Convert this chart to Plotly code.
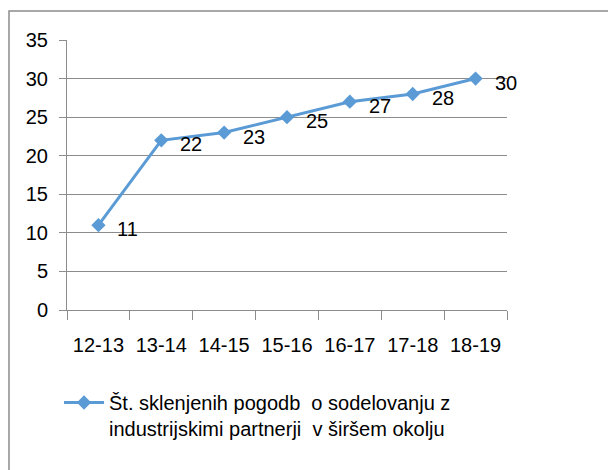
import plotly.graph_objects as go

categories = ["12-13", "13-14", "14-15", "15-16", "16-17", "17-18", "18-19"]
values = [11, 22, 23, 25, 27, 28, 30]
series_name = "Št. sklenjenih pogodb  o sodelovanju z<br>industrijskimi partnerji  v širšem okolju"

FONT = "Liberation Sans, Arial, sans-serif"
BLUE = "#5B9BD5"
GRID = "#8C8C8C"

fig = go.Figure()
fig.add_trace(go.Scatter(
    x=categories, y=values, name=series_name,
    mode="lines+markers",
    line=dict(color=BLUE, width=3),
    marker=dict(symbol="diamond", size=11, color=BLUE),
    cliponaxis=False,
))

for c, v in zip(categories, values):
    fig.add_annotation(
        x=c, y=v, text=str(v), showarrow=False,
        xanchor="left", yanchor="middle", xshift=17, yshift=-4,
        font=dict(family=FONT, size=20, color="#000000"),
    )

L, R, T, B = 67, 507, 40, 310
W, H = R - L, B - T

fig.update_layout(
    width=608, height=470,
    margin=dict(l=L, r=608 - R, t=T, b=470 - B, autoexpand=False),
    paper_bgcolor="white", plot_bgcolor="white",
    font=dict(family=FONT, size=20, color="#000000"),
    showlegend=True,
    legend=dict(
        x=(59 - L) / W, y=(B - 383) / H, xanchor="left", yanchor="top",
        valign="top", font=dict(family=FONT, size=20, color="#000000"),
        bgcolor="rgba(0,0,0,0)", itemwidth=40,
    ),
    xaxis=dict(
        type="category", showgrid=False, showline=True, linecolor=GRID, linewidth=1,
        ticks="outside", tickson="boundaries", ticklen=9, tickcolor=GRID,
        ticklabelstandoff=17,
        tickfont=dict(family=FONT, size=20, color="#000000"),
        range=[-0.5, 6.5],
    ),
    yaxis=dict(
        range=[0, 35], dtick=5, showgrid=True, gridcolor=GRID, gridwidth=1,
        showline=True, linecolor=GRID, linewidth=1, zeroline=False,
        ticks="outside", ticklen=7, tickcolor=GRID,
        ticklabelstandoff=7,
        tickfont=dict(family=FONT, size=20, color="#000000"),
    ),
    shapes=[dict(
        type="rect", xref="paper", yref="paper",
        x0=(9 - L) / W, x1=(640 - L) / W,
        y0=(B - 500) / H, y1=(B - 11) / H,
        line=dict(color="#8C8C8C", width=1.5), fillcolor="rgba(0,0,0,0)", layer="below",
    )],
)

fig.write_html(
    "out.html",
    config={"displayModeBar": False},
    post_script="document.body.style.margin='0';document.body.style.overflow='hidden';",
)
